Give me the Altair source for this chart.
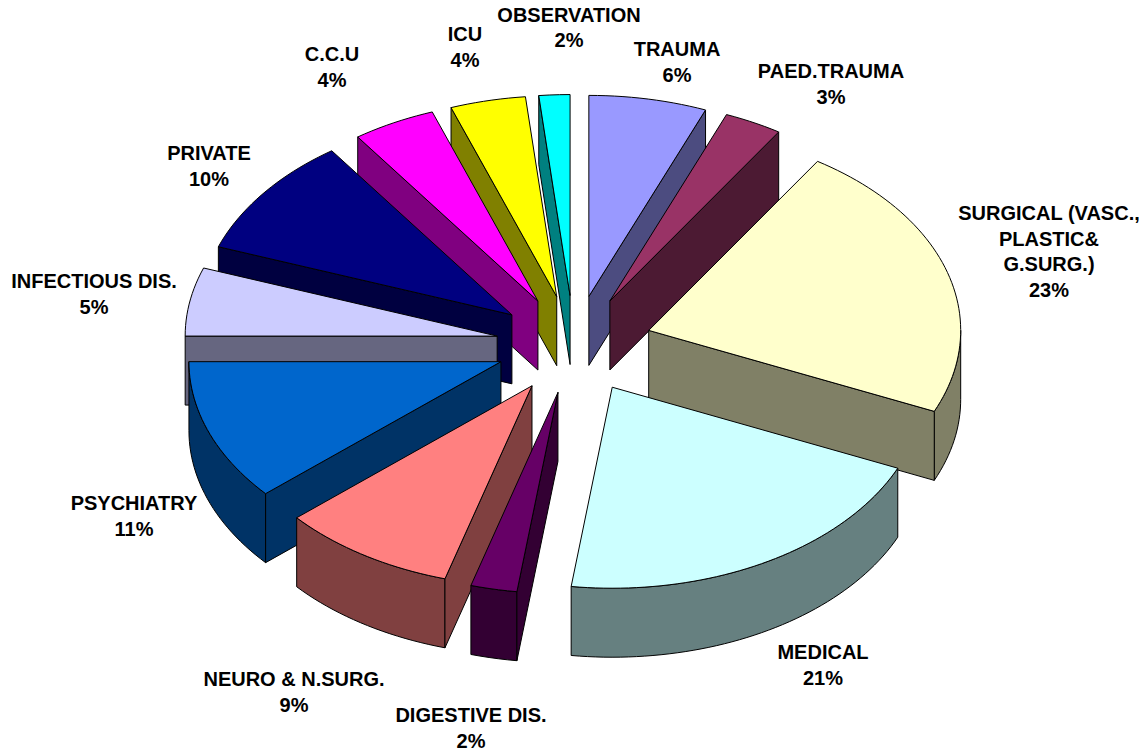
import math
import altair as alt

# ---- data ----
categories = ["TRAUMA", "PAED.TRAUMA", "SURGICAL (VASC.,\nPLASTIC&\nG.SURG.)", "MEDICAL",
              "DIGESTIVE DIS.", "NEURO & N.SURG.", "PSYCHIATRY", "INFECTIOUS DIS.",
              "PRIVATE", "C.C.U", "ICU", "OBSERVATION"]
shares = [6.1, 3.0, 22.5, 20.5, 2.4, 9.1, 11.4, 5.5, 9.7, 4.3, 3.9, 1.6]
percent_labels = ["6%", "3%", "23%", "21%", "2%", "9%", "11%", "5%", "10%", "4%", "4%", "2%"]
colors = ["#9999FF", "#993366", "#FFFFCC", "#CCFFFF", "#660066", "#FF8080",
          "#0066CC", "#CCCCFF", "#000080", "#FF00FF", "#FFFF00", "#00FFFF"]

# ---- layout (page pixels) ----
MARGIN = 8
CX, CY = 574.0, 344.5
RX, RY = 312.0, 201.0
EXPLODE_X, EXPLODE_Y = 78.0, 49.0
DEPTH = 69.0
PAINT_ORDER = [11, 10, 9, 8, 7, 0, 1, 2, 6, 5, 4, 3]
# centre x and y of each label's first line
LABEL_ANCHORS = {0: (677, 50), 1: (831, 72), 2: (1049, 214), 3: (823, 653),
                 4: (471, 716), 5: (294, 680), 6: (134, 504), 7: (94, 282),
                 8: (209, 154), 9: (332, 55), 10: (465, 35), 11: (569, 15.5)}
FONT_SIZE = 20
LINE_HEIGHT = 25.7


def halve(hex_color):
    r, g, b = (int(hex_color[i:i + 2], 16) for i in (1, 3, 5))
    return "#%02X%02X%02X" % (round(r / 2), round(g / 2), round(b / 2))


def feature(points, fill):
    ring = [list(p) for p in points] + [list(points[0])]
    return {"type": "Feature", "properties": {"fill": fill},
            "geometry": {"type": "Polygon", "coordinates": [ring]}}


total = sum(shares)
bounds = [0.0]
for s in shares:
    bounds.append(bounds[-1] + s / total * 360.0)

features = []
for i in PAINT_ORDER:
    a0, a1 = bounds[i], bounds[i + 1]
    mid = math.radians((a0 + a1) / 2)
    tx = CX + EXPLODE_X * math.sin(mid)
    ty = CY - EXPLODE_Y * math.cos(mid)

    def rim(deg, drop=0.0):
        r = math.radians(deg)
        return (tx + RX * math.sin(r), ty - RY * math.cos(r) + drop)

    steps = max(2, int((a1 - a0) / 1.5))
    arc = [a0 + (a1 - a0) * k / steps for k in range(steps + 1)]
    side = halve(colors[i])
    # outer wall, front half only
    front = [a for a in arc if 90 <= a <= 270]
    lo, hi = max(a0, 90), min(a1, 270)
    if lo < hi:
        front = sorted(set([lo, hi] + front))
        features.append(feature([rim(a) for a in front] + [rim(a, DEPTH) for a in reversed(front)], side))
    # cut faces that look towards the viewer
    if 180 < a0 < 360:
        features.append(feature([(tx, ty), rim(a0), rim(a0, DEPTH), (tx, ty + DEPTH)], side))
    if 0 < a1 < 180:
        features.append(feature([(tx, ty), rim(a1), rim(a1, DEPTH), (tx, ty + DEPTH)], side))
    # top face
    features.append(feature([(tx, ty)] + [rim(a) for a in arc], colors[i]))

shapes = alt.Chart(alt.Data(values=features)).mark_geoshape(
    stroke="black", strokeWidth=1, strokeJoin="round"
).encode(
    fill=alt.Fill("properties.fill:N", scale=None, legend=None)
).project(type="identity", scale=1, translate=[-MARGIN, -MARGIN])

label_rows = [
    {"text": categories[i] + "\n" + percent_labels[i],
     "x": LABEL_ANCHORS[i][0] - MARGIN, "y": LABEL_ANCHORS[i][1] - MARGIN}
    for i in range(len(categories))
]
labels = alt.Chart(alt.Data(values=label_rows)).mark_text(
    font="Liberation Sans", fontWeight="bold", fontSize=FONT_SIZE, color="black",
    align="center", baseline="middle", lineBreak="\n", lineHeight=LINE_HEIGHT
).encode(
    x=alt.X("x:Q", scale=None, axis=None),
    y=alt.Y("y:Q", scale=None, axis=None),
    text="text:N"
)

chart = alt.layer(shapes, labels).properties(
    width=1131, height=744, padding=0, background="white",
    autosize=alt.AutoSizeParams(type="none")
).configure_view(stroke=None)

chart.save("out.html", embed_options={"renderer": "svg", "actions": False})
